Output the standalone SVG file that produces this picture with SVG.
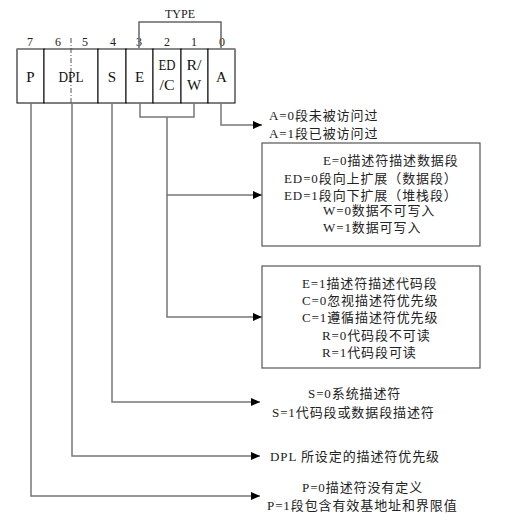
<svg xmlns="http://www.w3.org/2000/svg" width="516" height="523" viewBox="0 0 516 523">
<style>
.bg{fill:#fff}
.cell{fill:#fff;stroke:#000;stroke-width:1}
.top{stroke:#888;stroke-width:2;fill:none}
.con{stroke:#777;stroke-width:1.5;fill:none}
.box{fill:#fff;stroke:#555;stroke-width:1.2}
.lbl{font-family:"Liberation Serif","Noto Sans CJK SC",serif;font-size:15px;fill:#111;text-anchor:middle}
.num{font-family:"Liberation Serif",serif;font-size:12px;fill:#222;text-anchor:middle}
.t{font-family:"Liberation Serif","Noto Sans CJK SC",serif;font-size:13px;fill:#222;letter-spacing:0.9px}
</style>
<defs>
<marker id="ah" markerWidth="9" markerHeight="8" refX="9" refY="4" orient="auto" markerUnits="userSpaceOnUse">
<path d="M0,0 L9,4 L0,8 Z" fill="#000"/>
</marker>
</defs>
<rect class="bg" x="0" y="0" width="516" height="523"/>

<g id="header">
<text class="num" x="30" y="46">7</text>
<text class="num" x="58" y="46">6</text>
<text class="num" x="85" y="46">5</text>
<text class="num" x="113" y="46">4</text>
<text class="num" x="139" y="46">3</text>
<text class="num" x="167" y="46">2</text>
<text class="num" x="194" y="46">1</text>
<text class="num" x="222" y="46">0</text>
<text class="num" x="180" y="18">TYPE</text>
<path class="top" d="M139,49 V22 H221 V49" style="stroke-width:1.5;stroke:#666"/>
</g>

<g id="cells">
<rect class="cell" x="17" y="49" width="27" height="54"/>
<rect class="cell" x="44" y="49" width="54" height="54"/>
<rect class="cell" x="98" y="49" width="28" height="54"/>
<rect class="cell" x="126" y="49" width="27" height="54"/>
<rect class="cell" x="153" y="49" width="28" height="54"/>
<rect class="cell" x="181" y="49" width="27" height="54"/>
<rect class="cell" x="208" y="49" width="27" height="54"/>
<path class="top" d="M17,49 H43 M46,49 H70 M73,49 H97 M100,49 H124 M128,49 H151 M155,49 H179 M183,49 H206 M209,49 H235"/>
<line x1="71" y1="38" x2="71" y2="103" stroke="#555" stroke-width="1" stroke-dasharray="5,2,1,2"/>
</g>

<g id="labels">
<text class="lbl" x="30.5" y="82">P</text>
<text class="lbl" x="71" y="82" textLength="25" lengthAdjust="spacingAndGlyphs">DPL</text>
<text class="lbl" x="112" y="82">S</text>
<text class="lbl" x="139.5" y="82">E</text>
<text class="lbl" x="167" y="70" textLength="17" lengthAdjust="spacingAndGlyphs">ED</text>
<text class="lbl" x="167" y="90" textLength="15" lengthAdjust="spacingAndGlyphs">/C</text>
<text class="lbl" x="194" y="70" textLength="15" lengthAdjust="spacingAndGlyphs">R/</text>
<text class="lbl" x="194" y="90">W</text>
<text class="lbl" x="221.5" y="82">A</text>
</g>

<g id="connectors">
<path class="con" d="M221,103 V125 H262" marker-end="url(#ah)"/>
<path class="con" d="M140,103 V117 H194 V103"/>
<path class="con" d="M167,117 V195 H262" marker-end="url(#ah)"/>
<path class="con" d="M167,195 V317 H262" marker-end="url(#ah)"/>
<path class="con" d="M112,103 V402 H260" marker-end="url(#ah)"/>
<path class="con" d="M72,103 V456 H260" marker-end="url(#ah)"/>
<path class="con" d="M31,103 V496 H260" marker-end="url(#ah)"/>
</g>

<g id="a-info">
<text class="t" x="269" y="119.5">A=0段未被访问过</text>
<text class="t" x="269" y="137.5">A=1段已被访问过</text>
</g>

<g id="data-box">
<rect class="box" x="262" y="143" width="218" height="103"/>
<text class="t" x="323" y="164.5">E=0描述符描述数据段</text>
<text class="t" x="284" y="182.5">ED=0段向上扩展（数据段）</text>
<text class="t" x="284" y="199.5">ED=1段向下扩展（堆栈段）</text>
<text class="t" x="323" y="214.5">W=0数据不可写入</text>
<text class="t" x="323" y="231.5">W=1数据可写入</text>
</g>

<g id="code-box">
<rect class="box" x="262" y="266" width="218" height="102"/>
<text class="t" x="302" y="287.5">E=1描述符描述代码段</text>
<text class="t" x="302" y="304.5">C=0忽视描述符优先级</text>
<text class="t" x="302" y="321.5">C=1遵循描述符优先级</text>
<text class="t" x="322" y="339.5">R=0代码段不可读</text>
<text class="t" x="322" y="356.5">R=1代码段可读</text>
</g>

<g id="s-info">
<text class="t" x="308" y="397.5">S=0系统描述符</text>
<text class="t" x="272" y="416.5">S=1代码段或数据段描述符</text>
</g>

<g id="dpl-info">
<text class="t" x="270" y="460.5">DPL 所设定的描述符优先级</text>
</g>

<g id="p-info">
<text class="t" x="302" y="491.5">P=0描述符没有定义</text>
<text class="t" x="267" y="509.5">P=1段包含有效基地址和界限值</text>
</g>
</svg>
